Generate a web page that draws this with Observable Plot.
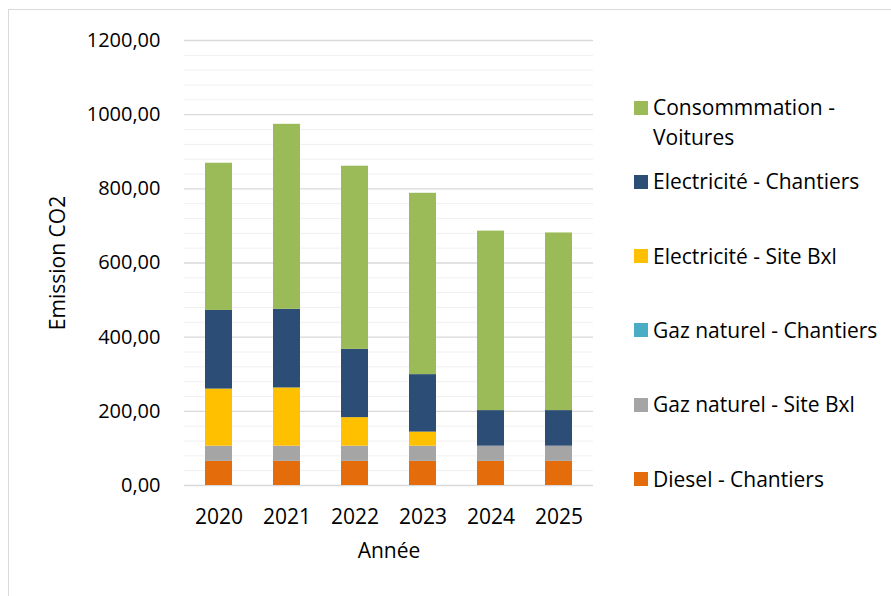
<!DOCTYPE html>
<html><head><meta charset="utf-8">
<script src="https://cdn.jsdelivr.net/npm/d3@7"></script>
<script src="https://cdn.jsdelivr.net/npm/@observablehq/plot@0.6"></script>
<style>
body{margin:0;background:#fff;font-family:"Open Sans",sans-serif;}
#wrap{position:relative;width:891px;height:596px;overflow:hidden;}
#frame{position:absolute;left:8px;top:9px;width:2000px;height:2000px;border:1px solid #d9d9d9;box-sizing:border-box;}
#chart{position:absolute;left:0;top:0;}
#legend{position:absolute;left:634px;top:92px;}
.item{position:absolute;left:0;display:flex;align-items:flex-start;font-size:21px;line-height:30px;color:#000;}
.sw{width:14px;height:14px;margin-top:8.5px;margin-right:5px;flex:none;}
.lab{width:240px;}
</style></head><body>
<div id="wrap"><div id="frame"></div><div id="chart"></div><div id="legend"></div></div>
<script>
const years = ["2020","2021","2022","2023","2024","2025"];
const series = ["Diesel - Chantiers","Gaz naturel - Site Bxl","Gaz naturel - Chantiers","Electricité - Site Bxl","Electricité - Chantiers","Consommmation - Voitures"];
const colors = ["#E46C0A","#A5A5A5","#4BACC6","#FFC000","#2C4D75","#9BBB59"];
const diesel = [65,65,65,65,65,65];
const gazBxl = [41,41,41,41,41,41];
const gazChantiers = [0,0,0,0,0,0];
const elecBxl = [154,157,77,38,0,0];
const elecChantiers = [212,212,184,155,96,96];
const voitures = [397,499,494,489,484,479];
const majorTicks = [0,200,400,600,800,1000,1200];
const minorTicks = d3.range(0,1201,40).filter(v => v % 200 !== 0);

const valuesBySeries = [diesel,gazBxl,gazChantiers,elecBxl,elecChantiers,voitures];
const table = [];
series.forEach((s,i) => years.forEach((y,j) => table.push({year:y, series:s, value:valuesBySeries[i][j]})));

const fmt = d => d.toFixed(2).replace(".", ",");

const chart = Plot.plot({
  width:891, height:596,
  marginLeft:184, marginRight:298, marginTop:40, marginBottom:111,
  style:{fontFamily:'"Open Sans", sans-serif', background:"transparent", color:"#000"},
  x:{domain:years, paddingInner:0.6, paddingOuter:0.3},
  y:{domain:[0,1200]},
  color:{domain:series, range:colors},
  marks:[
    Plot.ruleY(minorTicks,{stroke:"#f0f0f0", strokeWidth:1}),
    Plot.ruleY(majorTicks,{stroke:"#d9d9d9", strokeWidth:1.3}),
    Plot.barY(table,{x:"year", y:"value", fill:"series", order:series}),
    Plot.axisY(majorTicks,{tickSize:0, tickPadding:24, fontSize:20, tickFormat:fmt, label:null}),
    Plot.axisY([],{label:"Emission CO2", labelAnchor:"center", labelArrow:"none", labelOffset:134, fontSize:21}),
    Plot.axisX({tickSize:0, tickPadding:24, fontSize:21, label:null}),
    Plot.axisX([],{label:"Année", labelAnchor:"center", labelArrow:"none", labelOffset:72, fontSize:21})
  ]
});
document.getElementById("chart").appendChild(chart);

const legend = document.getElementById("legend");
const order = series.map((s,i)=>i).reverse();
order.forEach((idx,k) => {
  const it = document.createElement("div");
  it.className = "item";
  it.style.top = (k*74.3) + "px";
  const sw = document.createElement("div");
  sw.className = "sw";
  sw.style.background = colors[idx];
  const lab = document.createElement("div");
  lab.className = "lab";
  lab.textContent = series[idx];
  it.appendChild(sw); it.appendChild(lab);
  legend.appendChild(it);
});
</script>
</body></html>
